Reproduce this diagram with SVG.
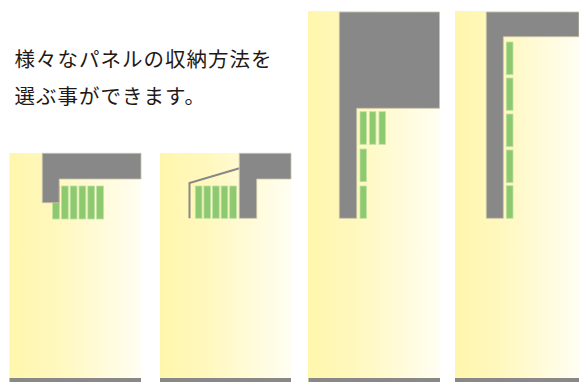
<svg xmlns="http://www.w3.org/2000/svg" width="579" height="382" viewBox="0 0 579 382">
<defs>
<linearGradient id="yg" x1="0" y1="0" x2="1" y2="0">
<stop offset="0" stop-color="#fff6ad"/>
<stop offset="0.35" stop-color="#fff8bd"/>
<stop offset="1" stop-color="#fffef2"/>
</linearGradient>
</defs>
<style>
.bg{fill:url(#yg)}
.wall{fill:#888888;stroke:#c9c4a8;stroke-width:0.8}
.floor{fill:#888888}
.pn{fill:#8cc96f;stroke:#c2e2a4;stroke-width:0.8}
.rail{fill:none;stroke:#888888;stroke-width:2}
text{font-family:"Noto Sans CJK JP","Noto Sans",sans-serif;font-size:20.5px;font-weight:400;fill:#231815;letter-spacing:1px}
</style>
<g id="caption">
<text x="14.5" y="67">様々なパネルの収納方法を</text>
<text x="14.5" y="104">選ぶ事ができます。</text>
</g>
<g id="panel1">
<rect class="bg" x="9.5" y="153" width="131.5" height="229"/>
<rect class="floor" x="9.5" y="378" width="131.5" height="4"/>
<rect class="pn" x="52.6" y="186" width="6.8" height="33"/>
<rect class="pn" x="61.4" y="186" width="6.8" height="33"/>
<rect class="pn" x="70.2" y="186" width="6.8" height="33"/>
<rect class="pn" x="79" y="186" width="6.8" height="33"/>
<rect class="pn" x="87.8" y="186" width="6.8" height="33"/>
<rect class="pn" x="96.6" y="186" width="6.8" height="33"/>
<path class="wall" d="M42.3,153.3 H141 V179 H59.2 V202.7 H42.3 Z"/>
</g>
<g id="panel2">
<rect class="bg" x="160" y="153" width="131" height="229"/>
<rect class="floor" x="160" y="378" width="131" height="4"/>
<polyline class="rail" points="189.5,218.3 189.5,183 239.5,168.3"/>
<rect class="pn" x="195.3" y="186" width="6.7" height="32.3"/>
<rect class="pn" x="203.9" y="186" width="6.7" height="32.3"/>
<rect class="pn" x="212.5" y="186" width="6.7" height="32.3"/>
<rect class="pn" x="221.1" y="186" width="6.7" height="32.3"/>
<rect class="pn" x="229.7" y="186" width="6.7" height="32.3"/>
<path class="wall" d="M239.3,153.3 H291 V179 H256.7 V218.3 H239.3 Z"/>
</g>
<g id="panel3">
<rect class="bg" x="308" y="11" width="132" height="371"/>
<rect class="floor" x="308.5" y="378" width="131.5" height="4"/>
<path class="wall" d="M339.3,12 H439.5 V108.3 H356.7 V218.3 H339.3 Z"/>
<rect class="pn" x="360" y="111.7" width="6.4" height="32.6"/>
<rect class="pn" x="369.5" y="111.7" width="6.4" height="32.6"/>
<rect class="pn" x="379" y="111.7" width="6.4" height="32.6"/>
<rect class="pn" x="360" y="149" width="6.4" height="32.7"/>
<rect class="pn" x="360" y="186" width="6.4" height="32.3"/>
</g>
<g id="panel4">
<rect class="bg" x="455" y="11" width="124" height="371"/>
<rect class="floor" x="455" y="378" width="124" height="4"/>
<path class="wall" d="M486.3,12 H579 V36.7 H503.3 V218.3 H486.3 Z"/>
<rect class="pn" x="506.3" y="42" width="6.7" height="32.7"/>
<rect class="pn" x="506.3" y="78" width="6.7" height="32.3"/>
<rect class="pn" x="506.3" y="114" width="6.7" height="32.7"/>
<rect class="pn" x="506.3" y="150" width="6.7" height="32.7"/>
<rect class="pn" x="506.3" y="185.7" width="6.7" height="32.6"/>
</g>
<g id="connectors"/>
</svg>
